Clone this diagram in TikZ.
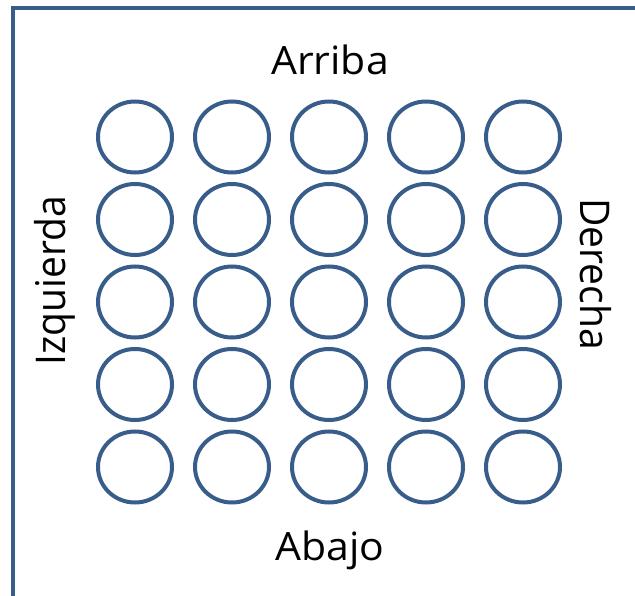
\documentclass[tikz,border=0pt]{standalone}
\usepackage{fontspec}
\usetikzlibrary{shapes.geometric}
\setmainfont{Open Sans}
\definecolor{frameblue}{HTML}{385D8A}
\begin{document}
\begin{tikzpicture}[x=1pt,y=-1pt,
  ring/.style={draw=frameblue,line width=4pt,ellipse,minimum width=74pt,minimum height=71pt,inner sep=0pt},
  lbl/.style={font=\fontsize{39}{41}\selectfont,inner sep=0pt,xscale=1.05}]
\useasboundingbox (0,0) rectangle (635,596);
\draw[frameblue,line width=4pt] (13,596) -- (13,8) -- (635,8);
\foreach \c [count=\i] in {135,232,329,426,523}{
  \foreach \r [count=\j] in {137,219.5,302,384.5,467}{
    \node[ring] (c\i\j) at (\c,\r) {};
  }
}
\node[lbl] (top) at (330,60) {Arriba};
\node[lbl] (bottom) at (330,550) {Abajo};
\node[lbl,rotate=90] (left) at (55,281) {Izquierda};
\node[lbl,rotate=-90] (right) at (596,274) {Derecha};
\end{tikzpicture}
\end{document}
